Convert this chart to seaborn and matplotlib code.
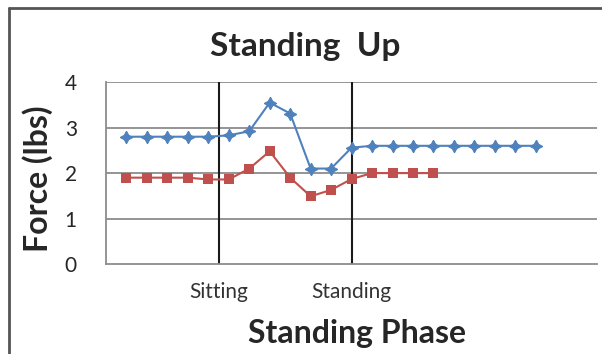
import pandas as pd
import numpy as np
import matplotlib.pyplot as plt
import seaborn as sns

# data
blue_force = [2.8, 2.8, 2.8, 2.8, 2.8, 2.83, 2.92, 3.55, 3.31, 2.1, 2.1, 2.56,
              2.6, 2.6, 2.6, 2.6, 2.6, 2.6, 2.6, 2.6, 2.6]
red_force = [1.9, 1.9, 1.9, 1.9, 1.86, 1.86, 2.1, 2.48, 1.9, 1.49, 1.63, 1.87,
             2.0, 2.0, 2.0, 2.0]
phase_ticks = [5.5, 12]
phase_labels = ['Sitting', 'Standing']
y_ticks = [0, 1, 2, 3, 4]

df_blue = pd.DataFrame({'x': np.arange(1, len(blue_force) + 1), 'force': blue_force})
df_red = pd.DataFrame({'x': np.arange(1, len(red_force) + 1), 'force': red_force})

sns.set_style('white')
plt.rcParams['font.family'] = ['Lato', 'DejaVu Sans']

fig = plt.figure(figsize=(6.02, 3.54), dpi=100)
ax = fig.add_axes([0.176, 0.254, 0.816, 0.514])

# gridlines
for y in y_ticks[1:]:
    ax.axhline(y, color='#8c8c8c', lw=1.3, zorder=0)
for x in phase_ticks:
    ax.axvline(x, color='#1a1a1a', lw=1.5, zorder=1)

sns.lineplot(data=df_blue, x='x', y='force', ax=ax, color='#4f81bd', lw=1.5,
             marker=(4, 1, 0), markersize=9, markeredgewidth=0.8,
             markeredgecolor='#4f81bd', zorder=3)
sns.lineplot(data=df_red, x='x', y='force', ax=ax, color='#c0504d', lw=1.5,
             marker='s', markersize=6.5, markeredgewidth=0,
             zorder=3)

ax.set_xlim(0, 24)
ax.set_ylim(0, 4)
ax.set_yticks(y_ticks)
ax.set_yticklabels([str(v) for v in y_ticks], fontsize=15)
ax.set_xticks(phase_ticks)
ax.set_xticklabels(phase_labels, fontsize=15, color='#333333')

for side in ['top', 'right']:
    ax.spines[side].set_visible(False)
ax.spines['left'].set_color('#8c8c8c')
ax.spines['bottom'].set_color('#8c8c8c')
ax.spines['left'].set_linewidth(1.3)
ax.spines['bottom'].set_linewidth(1.3)
ax.tick_params(axis='y', length=9, width=1.3, color='#8c8c8c', pad=12)
ax.tick_params(axis='x', length=6, width=1.3, color='#333333', pad=7)

ax.set_title('Standing  Up', fontsize=24, fontweight='bold', pad=19, x=0.405)
ax.set_xlabel('Standing Phase', fontsize=23, fontweight='bold')
ax.set_ylabel('Force (lbs)', fontsize=23, fontweight='bold')
ax.xaxis.set_label_coords(0.511, -0.30)
ax.yaxis.set_label_coords(-0.108, 0.47)

# chart frame (left and top edge visible)
fig.add_artist(plt.Line2D([0.015, 0.015], [0.0, 0.977], color='#555555', lw=2))
fig.add_artist(plt.Line2D([0.015, 1.0], [0.977, 0.977], color='#555555', lw=2))

fig.savefig('out.png', dpi=100)
